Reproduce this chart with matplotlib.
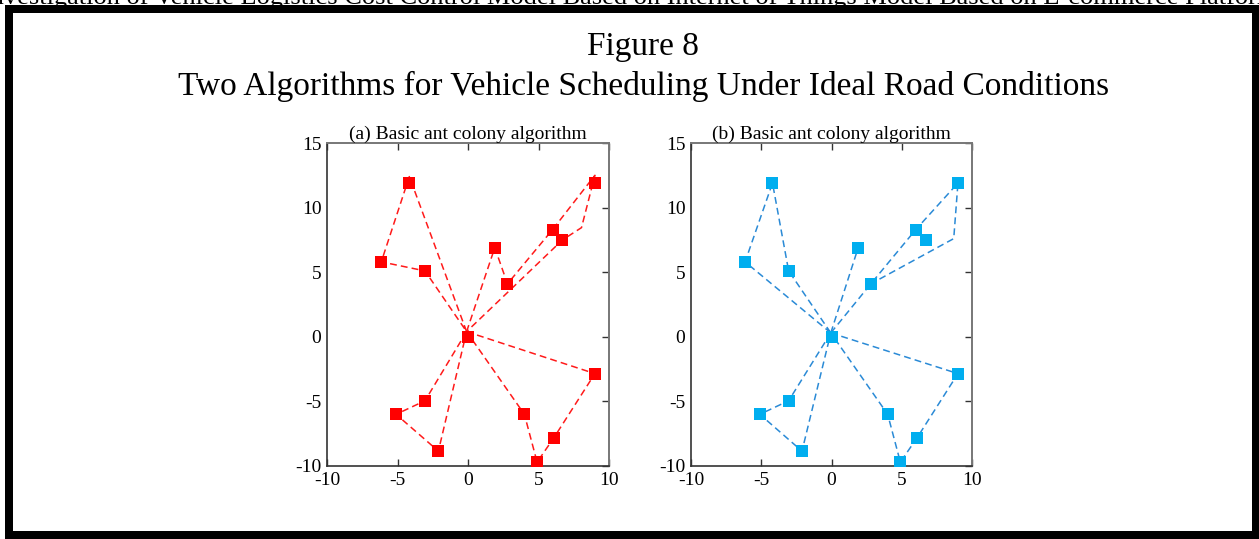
import numpy as np
import matplotlib
matplotlib.use("Agg")
import matplotlib.pyplot as plt
from matplotlib.patches import Rectangle

plt.rcParams['font.family'] = ['Liberation Serif', 'DejaVu Serif']
plt.rcParams['axes.unicode_minus'] = False

# customer locations (same set in both panels), depot at the origin
cust_x = [-4.2, -6.15, -3.05, 1.9, 2.8, 6.0, 6.7, 9.0, 9.0, -3.05, -5.1, -2.1, 4.0, 4.9, 6.1]
cust_y = [11.9, 5.8, 5.1, 6.9, 4.1, 8.3, 7.5, 11.9, -2.85, -4.95, -6.0, -8.85, -6.0, -9.7, -7.8]
depot = (0.0, 0.0)

# vehicle routes, panel (a)
routes_a = [
    [(-0.1, 0.4), (-4.16, 12.4), (-6.15, 5.8), (-3.05, 5.1), (-0.1, 0.4)],
    [(-0.1, 0.4), (1.9, 6.9), (2.8, 4.1), (6.0, 8.3), (9.0, 12.5), (8.05, 8.45), (6.7, 7.5), (-0.1, 0.4)],
    [(-0.1, 0.4), (9.0, -2.85), (6.1, -7.8), (4.9, -9.7), (4.0, -6.0), (-0.1, 0.4)],
    [(-0.1, 0.4), (-3.05, -4.95), (-5.1, -6.0), (-2.1, -8.85), (-0.1, 0.4)],
]

# vehicle routes, panel (b); shared legs are drawn once
routes_b = [
    [(-0.05, 0.3), (-6.15, 5.8), (-4.2, 11.9), (-3.05, 5.1), (-0.05, 0.3)],
    [(-0.05, 0.3), (1.9, 6.9)],
    [(-0.05, 0.3), (2.8, 4.1), (6.0, 8.3), (9.0, 11.9), (8.7, 7.6), (2.8, 4.1)],
    [(-0.05, 0.3), (9.0, -2.85), (6.1, -7.8), (4.9, -9.7), (4.0, -6.0), (-0.05, 0.3)],
    [(-0.05, 0.3), (-3.05, -4.95), (-5.1, -6.0), (-2.1, -8.85), (-0.05, 0.3)],
]

xticks = [-10, -5, 0, 5, 10]
yticks = [-10, -5, 0, 5, 10, 15]

W, H = 1259, 539
fig = plt.figure(figsize=(W / 100, H / 100), dpi=100)

# black page frame
fig.add_artist(Rectangle((5 / W, 0), 1 - 5 / W, 534 / H, transform=fig.transFigure,
                         facecolor='black', edgecolor='none', zorder=-2))
fig.add_artist(Rectangle((13 / W, 8 / H), 1239 / W, 518 / H, transform=fig.transFigure,
                         facecolor='white', edgecolor='none', zorder=-1))

# running header, cut off by the page edge and hidden under the frame
fig.text(0.5, 1 - 4 / H, "Investigation of Vehicle Logistics Cost Control Model Based on Internet of "
         "Things Model Based on E-commerce Platform", ha='center', va='baseline', fontsize=19,
         zorder=-3)

fig.text(0.511, 1 - 47 / H, "Figure 8", ha='center', va='center', fontsize=24)
fig.text(0.511, 1 - 86 / H, "Two Algorithms for Vehicle Scheduling Under Ideal Road Conditions",
         ha='center', va='center', fontsize=24)


def draw_panel(ax, routes, title, line_col, mark_col):
    for r in routes:
        xs = [p[0] for p in r]
        ys = [p[1] for p in r]
        ax.plot(xs, ys, color=line_col, lw=1.1, linestyle=(0, (4.5, 2.7)), zorder=2)
    ax.plot(cust_x + [depot[0]], cust_y + [depot[1]], 's', color=mark_col,
            markersize=8.5, markeredgewidth=0, zorder=3, linestyle='none')
    ax.set_xlim(-10, 10)
    ax.set_ylim(-10, 15)
    ax.set_xticks(xticks)
    ax.set_yticks(yticks)
    ax.tick_params(direction='in', top=True, right=True, left=False, length=5,
                   labelsize=14, width=1, color='#333333')
    ax.tick_params(axis='x', pad=4)
    ax.tick_params(axis='y', pad=4)
    for s in ['left', 'bottom']:
        ax.spines[s].set_color('#333333')
        ax.spines[s].set_linewidth(1.2)
    for s in ['top', 'right']:
        ax.spines[s].set_color('#777777')
        ax.spines[s].set_linewidth(1.4)
    ax.set_title(title, fontsize=14, pad=3)


ax1 = fig.add_axes([327 / W, 73 / H, 282 / W, 323 / H])
draw_panel(ax1, routes_a, "(a) Basic ant colony algorithm", '#ff1a1a', '#ff0000')

ax2 = fig.add_axes([691 / W, 73 / H, 281 / W, 323 / H])
draw_panel(ax2, routes_b, "(b) Basic ant colony algorithm", '#2a8ad6', '#00aeef')

fig.savefig("out.png", dpi=100)
